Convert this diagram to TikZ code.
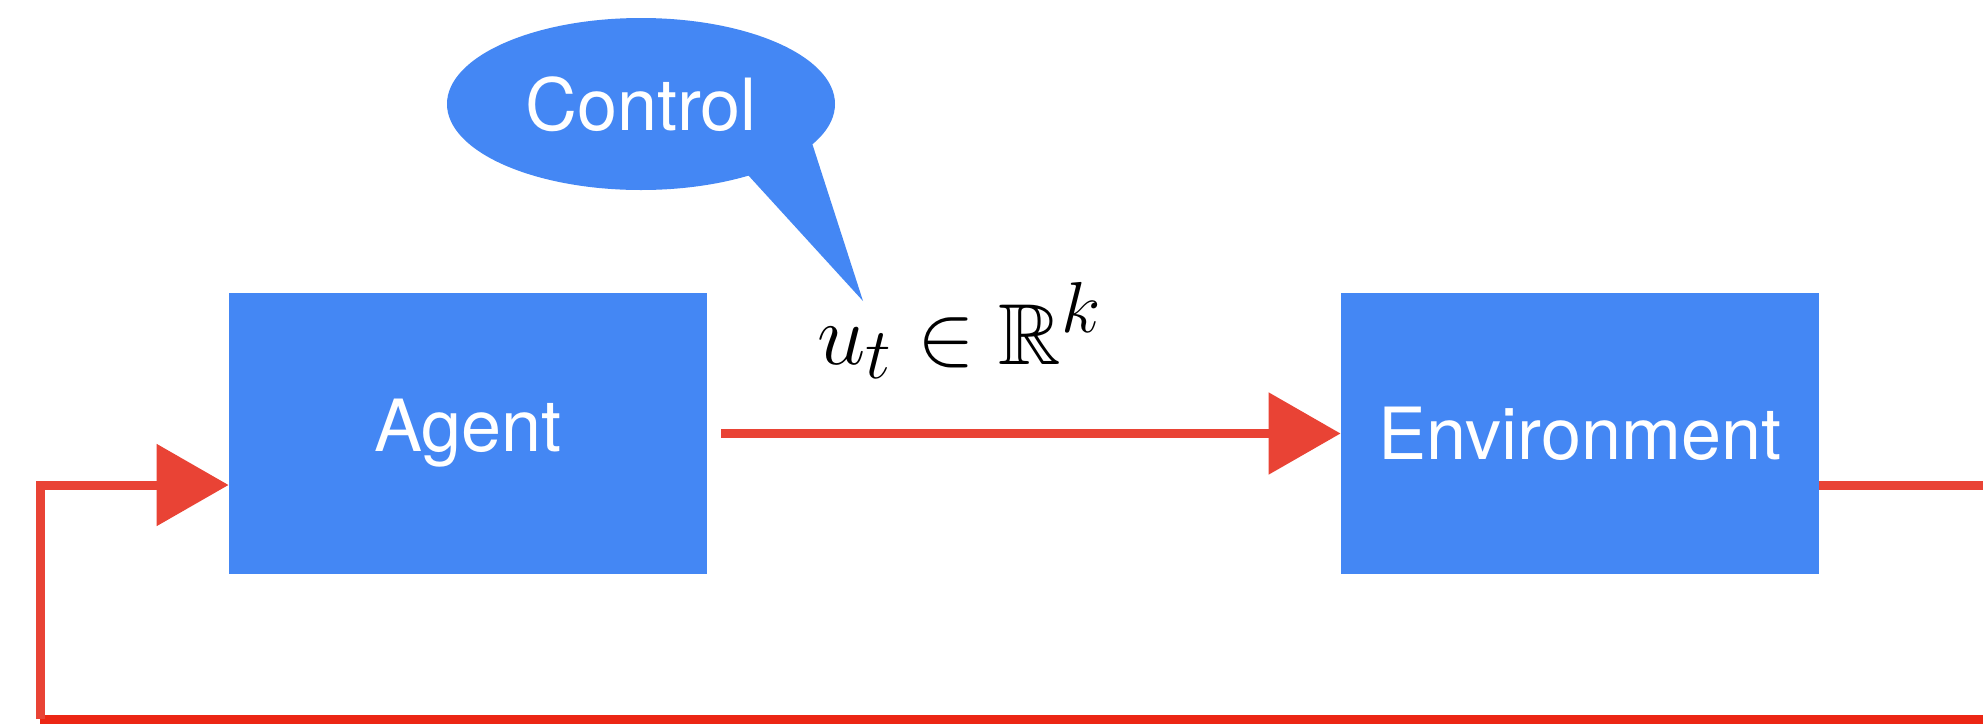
\documentclass[tikz,border=0pt]{standalone}
\usepackage{amssymb}
\usepackage{fontspec}
\setmainfont{TeX Gyre Heros}
\usetikzlibrary{shapes.geometric,arrows.meta,calc}
\definecolor{boxblue}{RGB}{68,135,244}
\definecolor{redA}{RGB}{233,67,53}
\definecolor{redB}{RGB}{236,38,20}
\begin{document}
\begin{tikzpicture}[x=0.5pt,y=-0.5pt,
  block/.style={rectangle, fill=boxblue, minimum width=239pt, minimum height=140.5pt, inner sep=0pt,
    text=white, font=\fontsize{36}{40}\selectfont},
  bubble/.style={ellipse, fill=boxblue, minimum width=194pt, minimum height=86pt, inner sep=0pt,
    text=white, font=\fontsize{36}{40}\selectfont},
  redline/.style={draw=redA, line width=4.5pt},
  redtip/.style={-{Triangle[length=36pt,width=40pt]}},
  mathlabel/.style={anchor=base, inner sep=0pt, scale=1.74, font=\fontsize{24.88}{28}\selectfont},
]
\useasboundingbox[fill=white] (0,0) rectangle (1983,724);
% boxes
\node[block] (agent) at (468,433.5) {Agent};
\node[block] (env) at (1580,433.5) {Environment};
% speech bubble
\coordinate (tip) at (863,301);
\fill[boxblue] (748,175) -- (tip) -- (812,143) -- cycle;
\node[bubble] (ctrl) at (641,104) {Control};
% label
\node[mathlabel] (lbl) at (960,364) {$u_t \in \mathbb{R}^k$};
% connectors
\coordinate (out) at (1983,485);
\coordinate (br) at (1983,719);
\coordinate (bl) at (40,719);
\coordinate (tl) at (40,485);
\draw[redline, redtip, shorten <=7pt] (agent.east) -- (env.west);
\draw[redline] (env.east |- out) -- (out);
\draw[draw=redB, line width=4.5pt] (br) -- (bl);
\draw[redline, redtip, line join=miter] (bl) -- (tl) -- (tl -| agent.west);
\end{tikzpicture}
\end{document}
